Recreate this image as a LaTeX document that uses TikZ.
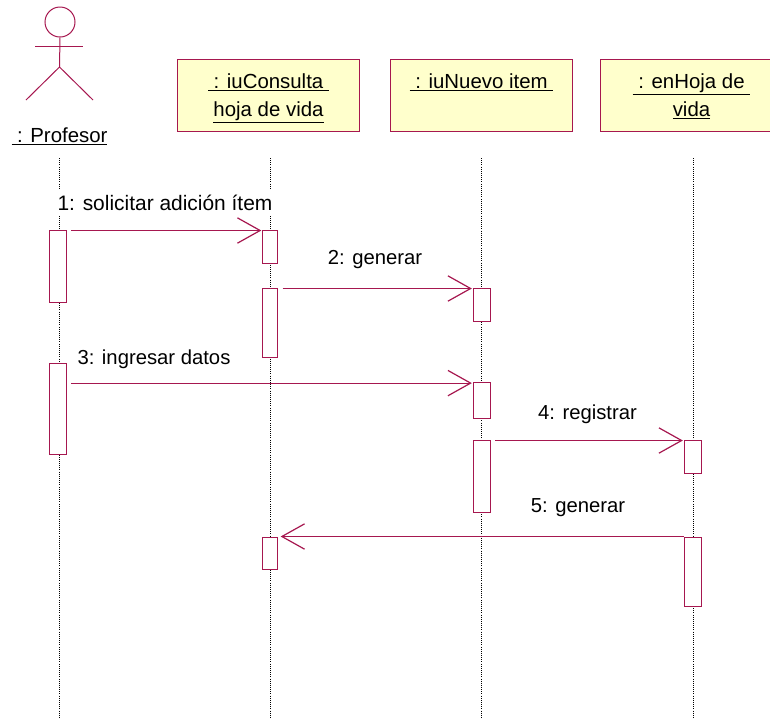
\documentclass[tikz,border=0pt]{standalone}
\usepackage{fontspec}
\setmainfont{Liberation Sans}
\usetikzlibrary{arrows.meta}
\definecolor{umlline}{HTML}{A6174F}
\definecolor{umlfill}{HTML}{FFFFCC}
\tikzset{object/.style={
  rectangle,
  draw=umlline,fill=umlfill,
  align=center,inner sep=0pt,font=\fontsize{15.3}{21}\selectfont}}
\tikzset{activation/.style={
  rectangle,
  draw=umlline,fill=white,
  inner sep=0pt}}
\tikzset{message/.style={
  inner sep=1pt,fill=white,minimum height=19.5pt,font=\fontsize{15.2}{17}\selectfont}}
\tikzset{>={Straight Barb[length=17pt,width=19pt,line width=0.9pt]}}
\newcommand{\objname}[1]{\underline{\ #1\ }}

\begin{document}
\begin{tikzpicture}[x=0.75pt,y=-0.75pt,line width=0.75pt]
  \useasboundingbox (0,0) rectangle (770,719);
  % objects
  \foreach \n/\p/\l in {
      consulta/{(268.5,95)}/{\objname{: iuConsulta}\\\underline{hoja de vida}},
      nuevo/{(481.5,95)}/{\objname{: iuNuevo item}\\\phantom{x}},
      hoja/{(691.5,95)}/{\objname{: enHoja de}\\\underline{vida}}}
    \node[object,minimum width=137pt,minimum height=54pt,text height=36pt,text depth=4.5pt] (\n) at \p {\l};
  % lifelines
  \foreach \n/\x in {profesor/59,consulta/270.5,nuevo/481.5,hoja/693} {
    \coordinate (\n top) at (\x,158);
    \coordinate (\n end) at (\x,719);
    \draw[densely dotted,line width=0.6pt] (\n top) -- (\n end);
  }
  % actor
  \node[draw=umlline,circle,minimum size=22.5pt,inner sep=0pt] (head) at (60,22) {};
  \coordinate (neck) at (59.5,67);
  \coordinate (armL) at (35,46);
  \coordinate (armR) at (83,46);
  \coordinate (footL) at (26,100);
  \coordinate (footR) at (93,100);
  \draw[umlline] (head.south) -- (neck);
  \draw[umlline] (armL) -- (armR);
  \draw[umlline] (footL) -- (neck) -- (footR);
  \node[font=\fontsize{15.3}{18}\selectfont,inner sep=0pt] (profesor) at (59.5,136.5) {\underline{\ : Profesor}};
  % activations
  \foreach \n/\p/\w/\h in {
      a1/{(57.5,266)}/17/72,
      a2/{(57.5,408.5)}/17/91,
      b1/{(270,246.5)}/15/33,
      b2/{(270,322.5)}/15/69,
      b3/{(270,553)}/15/32,
      c1/{(481.5,304.5)}/17/33,
      c2/{(481.5,400)}/17/36,
      c3/{(481.5,476)}/17/72,
      d1/{(692.5,456.5)}/17/33,
      d2/{(692.5,571.5)}/17/69}
    \node[activation,minimum width=\w*0.75pt,minimum height=\h*0.75pt] (\n) at \p {};
  % messages
  \foreach \m/\n in {a1/b1,b2/c1,c3/d1}
    \draw[->,umlline,shorten <=3.5pt,shorten >=0.5pt] ([yshift=-0.75pt]\m.north east) -- ([yshift=-0.75pt]\n.north west);
  \draw[->,umlline,shorten <=3.5pt,shorten >=0.5pt] ([yshift=-1.2pt]a2.east |- c2.north) -- ([yshift=-1.2pt]c2.north west);
  \draw[->,umlline,shorten >=2pt] (d2.north west) -- (b3.north east);
  \node[message,font=\fontsize{15.7}{17}\selectfont] (m1) at (165,203) {1: solicitar adición ítem};
  \node[message] (m2) at (375,260) {2: generar};
  \node[message] (m3) at (154,359) {3: ingresar datos};
  \node[message] (m4) at (587.5,414) {4: registrar};
  \node[message] (m5) at (578,508) {5: generar};
\end{tikzpicture}
\end{document}
